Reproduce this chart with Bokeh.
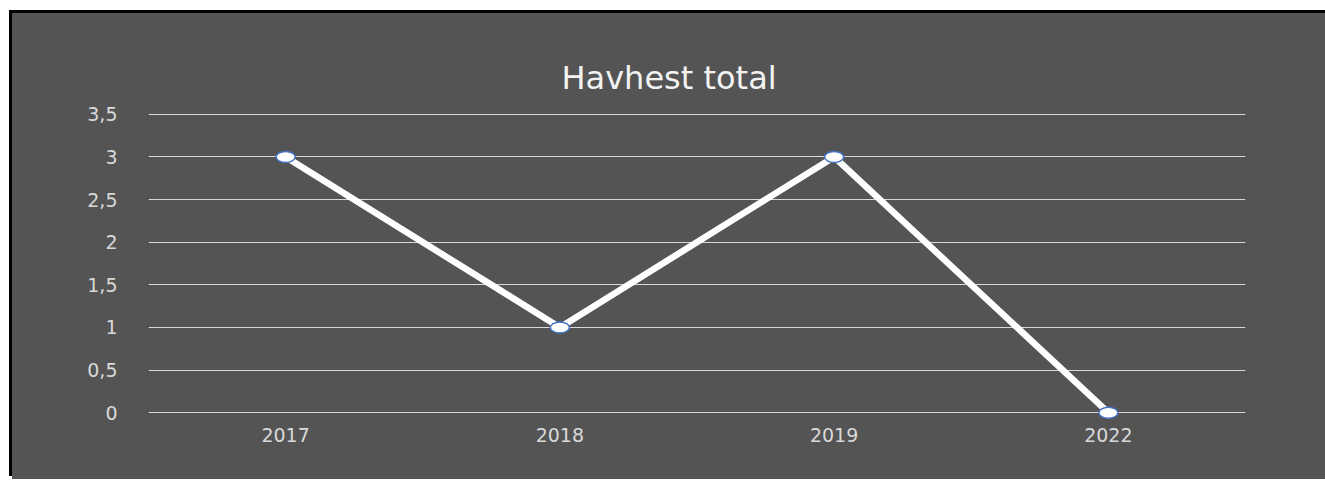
from bokeh.plotting import figure
from bokeh.models import FactorRange, Range1d, FixedTicker, CustomJSTickFormatter, ColumnDataSource
from bokeh.embed import file_html
from bokeh.resources import INLINE

years = ["2017", "2018", "2019", "2022"]
values = [3, 1, 3, 0]
y_ticks = [0, 0.5, 1, 1.5, 2, 2.5, 3, 3.5]
title_text = "Havhest total"

BG = "#545454"

src = ColumnDataSource(data=dict(x=years, y=values))

p = figure(
    x_range=FactorRange(factors=years),
    y_range=Range1d(-0.15, 3.65),
    width=1330, height=466,
    output_backend="svg", toolbar_location=None,
    min_border_left=136, min_border_right=97,
    min_border_top=88, min_border_bottom=54,
)
p.styles = {"margin-left": "12px", "margin-top": "13px",
            "box-shadow": "-3px -3px 0 0 black", "background-color": BG}
p.background_fill_color = BG
p.border_fill_color = BG
p.outline_line_color = None

p.title.text = title_text
p.title.align = "left"
p.title.offset = 413
p.title.text_font = "DejaVu Sans"
p.title.text_font_size = "32px"
p.title.text_font_style = "normal"
p.title.text_color = "#f2f2f2"
p.title.standoff = 10

# grid
p.xgrid.grid_line_color = None
p.ygrid.grid_line_color = "#d9d9d9"
p.ygrid.grid_line_width = 1.2
p.yaxis.ticker = FixedTicker(ticks=y_ticks)
p.yaxis.formatter = CustomJSTickFormatter(code="return tick.toString().replace('.', ',');")

for ax in (p.xaxis, p.yaxis):
    ax.axis_line_color = None
    ax.major_tick_line_color = None
    ax.minor_tick_line_color = None
    ax.major_tick_out = 0
    ax.major_tick_in = 0
    ax.major_label_text_font = "DejaVu Sans"
    ax.major_label_text_font_size = "19px"
    ax.major_label_text_color = "#d9d9d9"
p.yaxis.major_label_standoff = 31
p.xaxis.major_label_standoff = 2

p.line("x", "y", source=src, line_color="white", line_width=6.5)
p.ellipse("x", "y", source=src, width=19, height=11, width_units="screen", height_units="screen",
          fill_color="white", line_color="#4472C4", line_width=1.5)

open("out.html", "w").write(file_html(p, INLINE))
